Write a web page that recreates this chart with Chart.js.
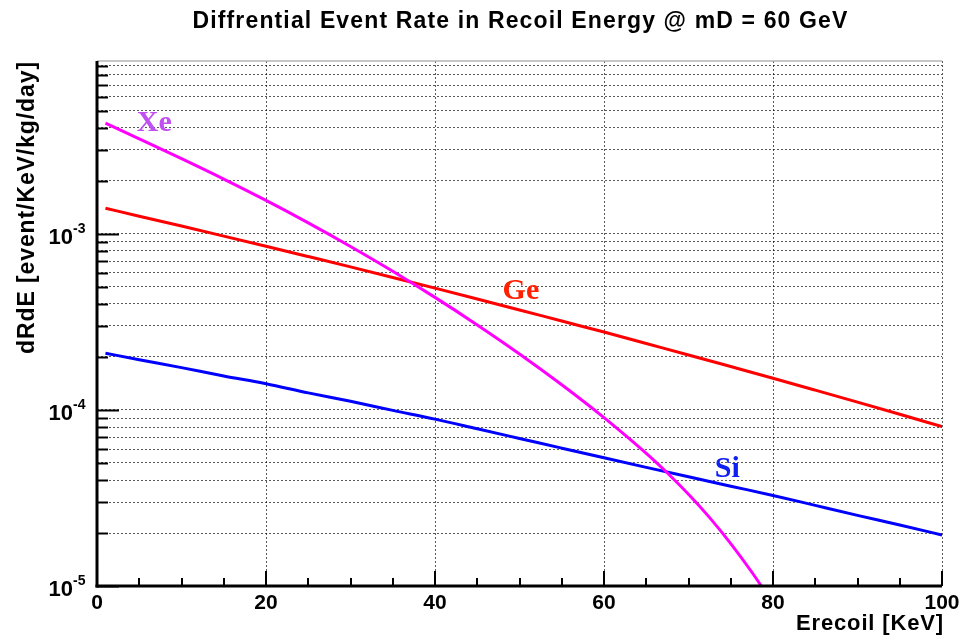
<!DOCTYPE html>
<html>
<head>
<meta charset="utf-8">
<script src="https://cdn.jsdelivr.net/npm/chart.js@4.4.1/dist/chart.umd.min.js"></script>
<style>
  html, body { margin: 0; padding: 0; background: #fff; }
  #wrap { width: 963px; height: 638px; }
</style>
</head>
<body>
<div id="wrap"><canvas id="rate"></canvas></div>
<script>
// recoil energy samples [KeV]
const energy = [1, 5, 10, 15, 20, 25, 30, 35, 40, 45, 50, 55, 60, 65, 70, 75, 80, 85, 90, 95, 100];
const siRate = [2.10e-4, 1.93e-4, 1.74e-4, 1.56e-4, 1.41e-4, 1.25e-4, 1.12e-4, 9.95e-5, 8.87e-5, 7.82e-5,
  6.89e-5, 6.07e-5, 5.35e-5, 4.72e-5, 4.17e-5, 3.69e-5, 3.27e-5, 2.87e-5, 2.52e-5, 2.22e-5, 1.95e-5];
const geRate = [1.40e-3, 1.261e-3, 1.108e-3, 9.72e-4, 8.51e-4, 7.44e-4, 6.50e-4, 5.66e-4, 4.92e-4, 4.27e-4,
  3.70e-4, 3.20e-4, 2.77e-4, 2.385e-4, 2.054e-4, 1.764e-4, 1.514e-4, 1.296e-4, 1.108e-4, 9.45e-5, 8.05e-5];
// Xe bends down fast and leaves the frame near 79 KeV
const xeEnergy = [1, 5, 10, 15, 20, 25, 30, 35, 40, 45, 50, 55, 60, 62.5, 65, 67.5, 70, 72.5, 75, 77.5, 80];
const xeRate = [4.256e-3, 3.467e-3, 2.676e-3, 2.049e-3, 1.550e-3, 1.156e-3, 8.49e-4, 6.14e-4, 4.36e-4, 3.04e-4,
  2.08e-4, 1.39e-4, 9.05e-5, 7.19e-5, 5.66e-5, 4.385e-5, 3.32e-5, 2.445e-5, 1.741e-5, 1.197e-5, 7.96e-6];

const xTickLabels = [0, 20, 40, 60, 80, 100];
const yDecades = [-5, -4, -3];
const yMin = 1e-5;
const yMax = 0.0096;

// every decade step 1..9 gets a dotted grid line
const yTickValues = [];
for (const d of [-5, -4, -3]) {
  for (let m = 1; m <= 9; m++) yTickValues.push(m * Math.pow(10, d));
}

const FONT = '"Liberation Sans", Arial, Helvetica, sans-serif';
const SERIF = '"Liberation Serif", "Times New Roman", serif';
const TITLE = "Diffrential Event Rate in Recoil Energy @ mD = 60 GeV";

function pts(xs, ys) {
  return xs.map((x, i) => ({ x: x, y: ys[i] }));
}

function isDecade(v) {
  const l = Math.log10(v);
  return Math.abs(l - Math.round(l)) < 1e-6;
}

// ROOT's Helvetica comes out wider than Liberation Sans, so spread the letters a bit
function spreadText(ctx, text, width) {
  ctx.letterSpacing = "0px";
  const w = ctx.measureText(text).width;
  ctx.letterSpacing = Math.max(0, (width - w) / text.length) + "px";
}

const rootFrame = {
  id: "rootFrame",
  afterDraw(chart) {
    const { ctx, chartArea: a } = chart;
    const x = chart.scales.x;
    const y = chart.scales.y;
    const seg = (x1, y1, x2, y2) => {
      ctx.beginPath();
      ctx.moveTo(x1, y1);
      ctx.lineTo(x2, y2);
      ctx.stroke();
    };
    ctx.save();

    // top edge of frame
    ctx.strokeStyle = "#b4b4b4";
    ctx.lineWidth = 1.5;
    seg(a.left, a.top, a.right, a.top);

    // inward ticks
    ctx.strokeStyle = "#000";
    ctx.lineWidth = 2;
    yTickValues.forEach((v) => {
      const py = Math.round(y.getPixelForValue(v)) + 0.5;
      seg(a.left, py, a.left + (isDecade(v) ? 22 : 11), py);
    });
    for (let v = 0; v <= 100; v += 5) {
      const px = Math.round(x.getPixelForValue(v));
      seg(px, a.bottom, px, a.bottom - (v % 20 === 0 ? 15 : 8));
    }

    // axes
    ctx.lineWidth = 3;
    seg(a.left, a.top, a.left, a.bottom + 1.5);
    seg(a.left - 1.5, a.bottom, a.right, a.bottom);

    // title
    ctx.fillStyle = "#000";
    ctx.font = "bold 23px " + FONT;
    ctx.textAlign = "center";
    ctx.textBaseline = "middle";
    spreadText(ctx, TITLE, 656);
    ctx.fillText(TITLE, (a.left + a.right) / 2 + 1, 22);
    ctx.letterSpacing = "0px";

    // x tick labels
    ctx.font = "bold 21px " + FONT;
    xTickLabels.forEach((v) => {
      ctx.fillText(String(v), x.getPixelForValue(v), a.bottom + 17);
    });

    // y tick labels 10^n
    yDecades.forEach((d) => {
      const py = y.getPixelForValue(Math.pow(10, d));
      ctx.font = "bold 22px " + FONT;
      ctx.textAlign = "right";
      ctx.fillText("10", 73, py + 4);
      ctx.font = "bold 14px " + FONT;
      ctx.textAlign = "left";
      ctx.fillText(String(d), 73, py - 5);
    });

    // axis titles
    ctx.font = "bold 22px " + FONT;
    ctx.textAlign = "right";
    ctx.textBaseline = "alphabetic";
    spreadText(ctx, "Erecoil [KeV]", 148);
    ctx.fillText("Erecoil [KeV]", a.right + 2, 630);

    ctx.save();
    ctx.translate(28, a.top);
    ctx.rotate(-Math.PI / 2);
    ctx.textAlign = "right";
    ctx.textBaseline = "middle";
    ctx.font = "bold 23px " + FONT;
    spreadText(ctx, "dRdE [event/KeV/kg/day]", 293);
    ctx.fillText("dRdE [event/KeV/kg/day]", 0, 0);
    ctx.restore();
    ctx.letterSpacing = "0px";

    // curve names
    ctx.font = "bold 30px " + SERIF;
    ctx.textAlign = "left";
    ctx.textBaseline = "alphabetic";
    [
      { text: "Xe", color: "#c050f0", ex: 4.7, ey: 3.85e-3 },
      { text: "Ge", color: "#ff2000", ex: 48.0, ey: 4.27e-4 },
      { text: "Si", color: "#1020f0", ex: 73.1, ey: 4.17e-5 },
    ].forEach((n) => {
      ctx.fillStyle = n.color;
      ctx.fillText(n.text, x.getPixelForValue(n.ex), y.getPixelForValue(n.ey));
    });

    ctx.restore();
  },
};

const gridDots = { color: "rgba(0,0,0,0.65)", lineWidth: 1 };

new Chart(document.getElementById("rate"), {
  type: "line",
  data: {
    datasets: [
      { label: "Xe", data: pts(xeEnergy, xeRate), borderColor: "#ff00ff" },
      { label: "Ge", data: pts(energy, geRate), borderColor: "#ff0000" },
      { label: "Si", data: pts(energy, siRate), borderColor: "#0000ff" },
    ],
  },
  options: {
    responsive: true,
    maintainAspectRatio: false,
    animation: false,
    parsing: false,
    layout: { padding: { left: 97, right: 21, top: 61, bottom: 52 } },
    elements: {
      point: { radius: 0 },
      line: { borderWidth: 3, tension: 0, cubicInterpolationMode: "monotone", fill: false },
    },
    plugins: {
      legend: { display: false },
      tooltip: { enabled: false },
      title: { display: false },
    },
    scales: {
      x: {
        type: "linear",
        min: 0,
        max: 100,
        ticks: { display: false, stepSize: 20 },
        grid: {
          drawTicks: false,
          color: (c) => (c.tick && c.tick.value === 0 ? "transparent" : gridDots.color),
          lineWidth: gridDots.lineWidth,
        },
        border: { display: false, dash: [2, 2] },
      },
      y: {
        type: "logarithmic",
        min: yMin,
        max: yMax,
        afterBuildTicks: (scale) => {
          scale.ticks = yTickValues.map((v) => ({ value: v }));
        },
        ticks: { display: false },
        grid: {
          drawTicks: false,
          color: (c) => (c.tick && c.tick.value === yMin ? "transparent" : gridDots.color),
          lineWidth: gridDots.lineWidth,
        },
        border: { display: false, dash: [2, 2] },
      },
    },
  },
  plugins: [rootFrame],
});
</script>
</body>
</html>
